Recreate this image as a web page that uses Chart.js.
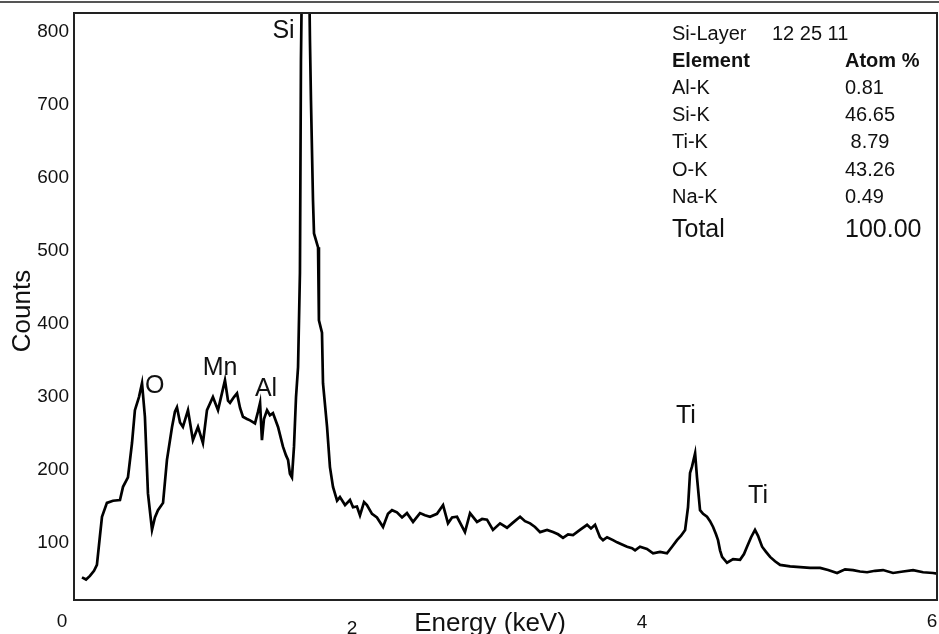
<!DOCTYPE html>
<html>
<head>
<meta charset="utf-8">
<script src="https://cdn.jsdelivr.net/npm/chart.js@4.4.0/dist/chart.umd.min.js"></script>
<style>
    html, body { margin: 0; padding: 0; background: #fff; }
    #wrap { width: 939px; height: 634px; }
</style>
</head>
<body>
<div id="wrap"><canvas id="spectrum" width="939" height="634"></canvas></div>
<script>
// EDS spectrum (keV / counts)
var energy = [
    0.138, 0.166, 0.193, 0.221, 0.241, 0.262, 0.276, 0.310, 0.352, 0.400,
    0.421, 0.455, 0.483, 0.503, 0.531, 0.552, 0.572, 0.593, 0.621, 0.641,
    0.662, 0.697, 0.724, 0.759, 0.779, 0.793, 0.814, 0.834, 0.869, 0.883,
    0.903, 0.938, 0.972, 1.000, 1.041, 1.076, 1.103, 1.124, 1.145, 1.159,
    1.186, 1.207, 1.228, 1.248, 1.276, 1.297, 1.331, 1.352, 1.366, 1.379,
    1.393, 1.414, 1.434, 1.455, 1.490, 1.524, 1.545, 1.559, 1.572, 1.586,
    1.600, 1.614, 1.628, 1.641, 1.648, 1.662, 1.676, 1.697, 1.710, 1.717,
    1.731, 1.738, 1.766, 1.772, 1.793, 1.800, 1.828, 1.848, 1.869, 1.897,
    1.917, 1.952, 1.986, 2.007, 2.034, 2.055, 2.083, 2.103, 2.138, 2.172,
    2.214, 2.248, 2.276, 2.310, 2.345, 2.379, 2.421, 2.469, 2.503, 2.538,
    2.586, 2.628, 2.662, 2.690, 2.724, 2.779, 2.814, 2.862, 2.897, 2.931,
    2.972, 3.021, 3.069, 3.110, 3.159, 3.193, 3.228, 3.262, 3.297, 3.345,
    3.386, 3.421, 3.455, 3.490, 3.524, 3.572, 3.621, 3.648, 3.676, 3.710,
    3.731, 3.759, 3.800, 3.828, 3.862, 3.897, 3.931, 3.952, 3.986, 4.034,
    4.076, 4.124, 4.172, 4.207, 4.241, 4.269, 4.297, 4.317, 4.331, 4.345,
    4.366, 4.379, 4.400, 4.421, 4.448, 4.469, 4.490, 4.510, 4.524, 4.538,
    4.552, 4.586, 4.628, 4.676, 4.703, 4.724, 4.752, 4.779, 4.800, 4.828,
    4.855, 4.883, 4.917, 4.952, 5.021, 5.090, 5.159, 5.228, 5.283, 5.345,
    5.400, 5.455, 5.503, 5.552, 5.607, 5.662, 5.731, 5.800, 5.869, 5.938,
    6.007, 6.034
];
var counts = [
    53, 50, 55, 62, 70, 110, 136, 155, 158, 159,
    177, 190, 237, 282, 300, 319, 273, 168, 118, 135,
    145, 155, 214, 259, 280, 286, 265, 259, 282, 265,
    241, 259, 237, 282, 300, 282, 305, 323, 295, 292,
    300, 305, 285, 273, 270, 268, 264, 280, 292, 241,
    270, 282, 275, 278, 259, 232, 220, 214, 195, 190,
    232, 300, 341, 470, 762, 1000, 1400, 1000, 789, 707,
    570, 524, 505, 405, 388, 319, 259, 204, 177, 158,
    163, 152, 159, 149, 150, 138, 156, 152, 140, 135,
    122, 140, 145, 142, 135, 141, 129, 141, 138, 136,
    140, 152, 127, 135, 136, 115, 141, 129, 133, 132,
    118, 127, 121, 128, 136, 130, 127, 122, 115, 118,
    115, 112, 107, 112, 111, 118, 125, 120, 125, 108,
    104, 108, 104, 101, 98, 95, 93, 90, 95, 92,
    86, 88, 86, 95, 104, 110, 118, 149, 196, 205,
    223, 190, 145, 140, 136, 130, 122, 112, 104, 90,
    81, 73, 78, 77, 85, 95, 108, 118, 110, 95,
    88, 81, 75, 70, 68, 67, 66, 66, 63, 59,
    64, 63, 61, 60, 62, 63, 59, 61, 63, 60,
    59, 58
];

var xTicks = [0, 2, 4, 6];
var yTicks = [100, 200, 300, 400, 500, 600, 700, 800];

// peak labels: name, energy (keV), counts at text baseline
var peakNames = ['Si', 'O', 'Mn', 'Al', 'Ti', 'Ti'];
var peakEnergy = [1.528, 0.640, 1.090, 1.407, 4.303, 4.800];
var peakCounts = [792, 305, 330, 301, 264, 155];

var sampleTitle = 'Si-Layer';
var sampleDate = '12 25 11';
var elements = ['Al-K', 'Si-K', 'Ti-K', 'O-K', 'Na-K'];
var atomPct = ['0.81', '46.65', ' 8.79', '43.26', '0.49'];
var totalPct = '100.00';

(function() {
    var font = '"Liberation Sans", Arial, sans-serif';
    var ink = '#111';

    var decor = {
        id: 'decor',
        afterDraw: function(chart) {
            var ctx = chart.ctx;
            var a = chart.chartArea;
            var xs = chart.scales.x;
            var ys = chart.scales.y;
            ctx.save();

            // screen edge line at the very top
            ctx.strokeStyle = '#555';
            ctx.lineWidth = 2;
            ctx.beginPath();
            ctx.moveTo(0, 2);
            ctx.lineTo(939, 2);
            ctx.stroke();

            // frame
            ctx.strokeStyle = '#222';
            ctx.lineWidth = 2;
            ctx.strokeRect(a.left, a.top, a.right - a.left, a.bottom - a.top);

            ctx.fillStyle = ink;

            // y tick labels
            ctx.font = '19px ' + font;
            ctx.textAlign = 'right';
            ctx.textBaseline = 'middle';
            yTicks.forEach(function(v) {
                ctx.fillText(String(v), a.left - 5, ys.getPixelForValue(v));
            });

            // x tick labels (staggered like the original)
            var xDy = [22, 29, 23, 22];
            ctx.textAlign = 'center';
            xTicks.forEach(function(v, i) {
                ctx.fillText(String(v), xs.getPixelForValue(v), a.bottom + xDy[i]);
            });

            // axis titles
            ctx.font = '26px ' + font;
            ctx.fillText('Energy (keV)', 490, a.bottom + 24);
            ctx.save();
            ctx.translate(23, 311);
            ctx.rotate(-Math.PI / 2);
            ctx.fillText('Counts', 0, 0);
            ctx.restore();

            // peak labels
            ctx.font = '25px ' + font;
            ctx.textBaseline = 'alphabetic';
            peakNames.forEach(function(n, i) {
                ctx.fillText(n, xs.getPixelForValue(peakEnergy[i]), ys.getPixelForValue(peakCounts[i]));
            });

            // composition table
            ctx.textAlign = 'left';
            ctx.font = '20px ' + font;
            ctx.fillText(sampleTitle, 672, 40);
            ctx.fillText(sampleDate, 772, 40);
            ctx.font = 'bold 20px ' + font;
            ctx.fillText('Element', 672, 67);
            ctx.fillText('Atom %', 845, 67);
            ctx.font = '20px ' + font;
            elements.forEach(function(el, i) {
                var y = 94 + i * 27.2;
                ctx.fillText(el, 672, y);
                ctx.fillText(atomPct[i], 845, y);
            });
            ctx.font = '25px ' + font;
            ctx.fillText('Total', 672, 237);
            ctx.fillText(totalPct, 845, 237);

            ctx.restore();
        }
    };

    var points = energy.map(function(e, i) {
        return { x: e, y: counts[i] };
    });

    new Chart(document.getElementById('spectrum').getContext('2d'), {
        type: 'line',
        data: {
            datasets: [{
                data: points,
                borderColor: '#000',
                borderWidth: 2.7,
                pointRadius: 0,
                tension: 0,
                fill: false
            }]
        },
        options: {
            responsive: false,
            animation: false,
            layout: { padding: { left: 74, top: 13, right: 2, bottom: 34 } },
            plugins: { legend: { display: false }, tooltip: { enabled: false } },
            scales: {
                x: { type: 'linear', min: 0.083, max: 6.034, display: false },
                y: { min: 22, max: 826, display: false }
            }
        },
        plugins: [decor]
    });
})();
</script>
</body>
</html>
